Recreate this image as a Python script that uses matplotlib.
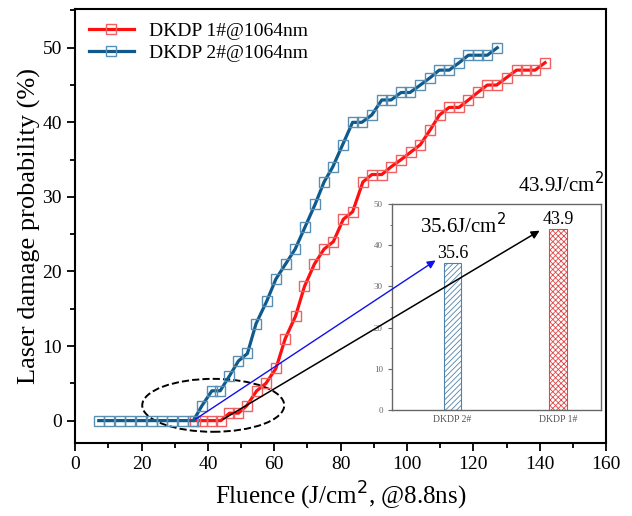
import numpy as np
import matplotlib
matplotlib.use('Agg')
import matplotlib.pyplot as plt
from matplotlib.patches import Ellipse
from matplotlib.ticker import MultipleLocator

# damage probability curves
x_2 = [7.1, 10.3, 13.4, 16.6, 19.8, 23.0, 26.1, 29.3, 32.4, 35.6,
       38.2, 41.2, 43.7, 46.5, 49.2, 51.9, 54.5, 57.7, 60.5, 63.4,
       66.3, 69.3, 72.3, 75.0, 77.6, 80.6, 83.6, 86.4, 89.4, 92.4,
       95.2, 98.2, 100.9, 104.0, 107.0, 109.7, 112.7, 115.7, 118.5,
       121.5, 124.2, 127.2]
y_2 = [0, 0, 0, 0, 0, 0, 0, 0, 0, 0,
       2, 4, 4, 6, 8, 9, 13, 16, 19, 21,
       23, 26, 29, 32, 34, 37, 40, 40, 41, 43,
       43, 44, 44, 45, 46, 47, 47, 48, 49,
       49, 49, 50]

x_1 = [36.0, 38.2, 41.2, 43.9, 46.5, 49.2, 51.7, 54.7, 57.5, 60.5,
       63.3, 66.4, 69.1, 72.1, 75.0, 77.8, 80.8, 83.6, 86.7, 89.4,
       92.4, 95.1, 98.2, 101.1, 104.0, 107.0, 109.8, 112.7, 115.7,
       118.5, 121.3, 124.2, 127.0, 130.0, 133.0, 135.9, 138.6, 141.6]
y_1 = [0, 0, 0, 0, 1, 1, 2, 4, 5, 7,
       11, 14, 18, 21, 23, 24, 27, 28, 32, 33,
       33, 34, 35, 36, 37, 39, 41, 42, 42,
       43, 44, 45, 45, 46, 47, 47, 47, 48]

# thresholds for the inset bars
bar_names = ['DKDP 2#', 'DKDP 1#']
bar_vals = [35.6, 43.9]

serif = ['Liberation Serif', 'DejaVu Serif']
plt.rcParams['font.family'] = serif
plt.rcParams['hatch.linewidth'] = 0.6

fig = plt.figure(figsize=(6.32, 5.16), dpi=100)
ax = fig.add_axes([0.119, 0.1415, 0.840, 0.8411])

ax.plot(x_1, y_1, '-s', color='#ff1010', lw=2.3, ms=6.8, mfc='none',
        mec='#f06060', mew=1.0, label='DKDP 1#@1064nm')
ax.plot(x_2, y_2, '-s', color='#0f5a8a', lw=2.3, ms=6.8, mfc='none',
        mec='#5a8fb5', mew=1.0, label='DKDP 2#@1064nm')

ax.set_xlim(0, 160)
ax.set_ylim(-3, 55.2)
ax.xaxis.set_major_locator(MultipleLocator(20))
ax.xaxis.set_minor_locator(MultipleLocator(10))
ax.yaxis.set_major_locator(MultipleLocator(10))
ax.yaxis.set_minor_locator(MultipleLocator(5))
ax.tick_params(which='both', direction='out', top=False, right=False,
               labelsize=14, width=1.3)
ax.tick_params(which='major', length=6)
ax.tick_params(which='minor', length=3.5)
for s in ax.spines.values():
    s.set_linewidth(1.5)

ax.set_xlabel('Fluence (J/cm$^2$, @8.8ns)', fontsize=18, labelpad=5)
ax.set_ylabel('Laser damage probability (%)', fontsize=19, labelpad=1)

leg = ax.legend(loc='upper left', frameon=False, fontsize=14,
                handlelength=2.3, borderaxespad=0.3, labelspacing=0.2)

ax.add_patch(Ellipse((41.6, 2.05), 42.8, 7.1, fill=False, ls='--',
                     lw=1.4, color='k'))

ax.text(159.5, 30.6, '43.9J/cm$^2$', fontsize=15, ha='right',
        va='baseline')

# inset with the thresholds
ax_in = fig.add_axes([0.620, 0.2054, 0.331, 0.399])
pos = np.arange(len(bar_vals))
b = ax_in.bar(pos, bar_vals, width=0.17, color='white',
              edgecolor=['#4f82a8', '#e04848'], linewidth=0.8)
b[0].set_hatch('//////')
b[1].set_hatch('xxxxxx')
for p, v in zip(pos, bar_vals):
    ax_in.text(p, v + 0.3, '%.1f' % v, ha='center', va='bottom',
               fontsize=13)
ax_in.set_xlim(-0.575, 1.409)
ax_in.set_ylim(0, 50)
ax_in.set_xticks(pos)
ax_in.set_xticklabels(bar_names)
ax_in.yaxis.set_major_locator(MultipleLocator(10))
ax_in.yaxis.set_minor_locator(MultipleLocator(5))
ax_in.tick_params(axis='y', which='both', direction='out', labelsize=6.5,
                  colors='#666666', length=3)
ax_in.tick_params(axis='y', which='minor', length=1.8)
ax_in.tick_params(axis='x', length=0, labelsize=7, colors='#555555')
for s in ax_in.spines.values():
    s.set_color('#666666')
    s.set_linewidth(1.0)
ax_in.text(-0.31, 43.0, '35.6J/cm$^2$', fontsize=15, va='baseline')

# arrows from threshold points to the bars
ax_in.annotate('', xy=(-0.138, 36.7), xycoords=ax_in.transData,
               xytext=(35.6, 0), textcoords=ax.transData,
               arrowprops=dict(arrowstyle='-|>', color='#1010ee', lw=1.0,
                               mutation_scale=12))
ax_in.annotate('', xy=(0.849, 43.9), xycoords=ax_in.transData,
               xytext=(43.9, 0), textcoords=ax.transData,
               arrowprops=dict(arrowstyle='-|>', color='k', lw=1.1,
                               mutation_scale=12))

fig.savefig('out.png', dpi=100)
